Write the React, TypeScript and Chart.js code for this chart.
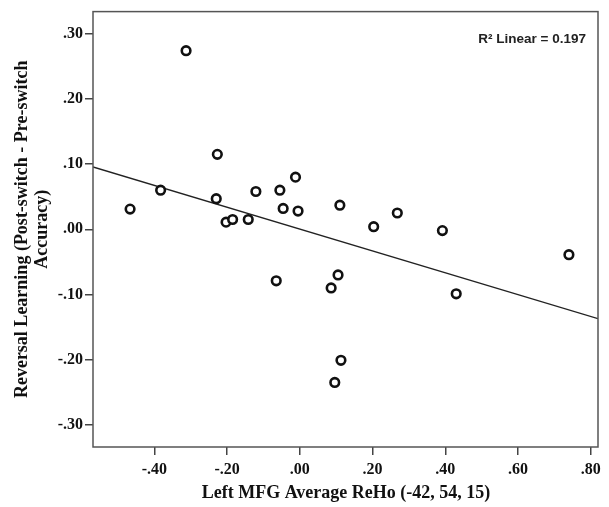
import React, { useEffect, useRef } from "react";
import { Chart, registerables } from "chart.js";

Chart.register(...registerables);

const xValues = [-0.467, -0.383, -0.313, -0.227, -0.230, -0.203, -0.185, -0.142, -0.121, -0.055, -0.046, -0.012, -0.005, 0.110, 0.203, 0.268, 0.392, 0.740, -0.065, 0.086, 0.105, 0.430, 0.113, 0.096];
const yValues = [0.031, 0.060, 0.274, 0.115, 0.047, 0.011, 0.015, 0.015, 0.058, 0.060, 0.032, 0.080, 0.028, 0.037, 0.004, 0.025, -0.002, -0.039, -0.079, -0.090, -0.070, -0.099, -0.201, -0.235];

const fitX = [-0.569, 0.82];
const fitY = [0.0956, -0.137];

const xTitle = "Left MFG Average ReHo (-42, 54, 15)";
const yTitleLines = ["Reversal Learning (Post-switch - Pre-switch", "Accuracy)"];
const r2Label = "R\u00B2 Linear = 0.197";

const xMin = -0.569, xMax = 0.82, xStep = 0.2;
const yMin = -0.334, yMax = 0.334, yStep = 0.1;

function fmt(v: number): string {
  if (Math.abs(v) < 1e-9) return ".00";
  const s = Math.abs(v).toFixed(2).replace(/^0/, "");
  return (v < 0 ? "-" : "") + s;
}

const serif = "'Liberation Serif', 'Times New Roman', serif";

export default function App() {
  const ref = useRef<HTMLCanvasElement | null>(null);
  useEffect(() => {
    if (!ref.current) return;
    const decor = {
      id: "decor",
      afterDraw(chart: any) {
        const { ctx, chartArea } = chart;
        ctx.save();
        ctx.strokeStyle = "#555";
        ctx.lineWidth = 1.5;
        ctx.strokeRect(chartArea.left, chartArea.top, chartArea.right - chartArea.left, chartArea.bottom - chartArea.top);
        ctx.fillStyle = "#111";
        ctx.font = `bold 18px ${serif}`;
        ctx.textAlign = "center";
        ctx.textBaseline = "alphabetic";
        ctx.fillText(xTitle, 346, 498);
        const cy = (chartArea.top + chartArea.bottom) / 2;
        ctx.save();
        ctx.translate(27, cy);
        ctx.rotate(-Math.PI / 2);
        ctx.fillText(yTitleLines[0], 0, 0);
        ctx.fillText(yTitleLines[1], 0, 20);
        ctx.restore();
        ctx.font = "bold 13.5px 'Liberation Sans', Arial, sans-serif";
        ctx.textAlign = "right";
        ctx.fillStyle = "#222";
        ctx.fillText(r2Label, 586, 43);
        ctx.restore();
      },
    };
    const chart = new Chart(ref.current, {
      type: "scatter",
      data: {
        datasets: [
          {
            data: xValues.map((x, i) => ({ x, y: yValues[i] })),
            pointRadius: 4.3,
            pointBorderWidth: 2.6,
            pointBorderColor: "#111",
            pointBackgroundColor: "#fff",
            order: 1,
          } as any,
          {
            data: fitX.map((x, i) => ({ x, y: fitY[i] })),
            showLine: true,
            pointRadius: 0,
            borderColor: "#222",
            borderWidth: 1.3,
            order: 2,
          } as any,
        ],
      },
      options: {
        animation: false,
        responsive: false,
        events: [],
        layout: { padding: { top: 9, right: 11, left: 0, bottom: 0 } },
        plugins: { legend: { display: false }, tooltip: { enabled: false } },
        scales: {
          x: {
            type: "linear",
            min: xMin,
            max: xMax,
            afterFit: (s: any) => { s.height = 60; },
            border: { display: false },
            grid: { drawOnChartArea: false, drawTicks: true, tickLength: 8, color: "#444", lineWidth: 1.5 },
            ticks: {
              stepSize: xStep,
              includeBounds: false,
              color: "#111",
              font: { family: serif, size: 16, weight: "bold" },
              padding: 5,
              maxRotation: 0,
              autoSkip: false,
              callback: (v: any) => fmt(Number(v)),
            },
          },
          y: {
            type: "linear",
            min: yMin,
            max: yMax,
            afterFit: (s: any) => { s.width = 93; },
            border: { display: false },
            grid: { drawOnChartArea: false, drawTicks: true, tickLength: 8, color: "#444", lineWidth: 1.5 },
            ticks: {
              stepSize: yStep,
              includeBounds: false,
              color: "#111",
              font: { family: serif, size: 16, weight: "bold" },
              padding: 2,
              autoSkip: false,
              callback: (v: any) => fmt(Number(v)),
            },
          },
        },
      },
      plugins: [decor],
    } as any);
    return () => chart.destroy();
  }, []);
  return (
    <div style={{ position: "absolute", left: 0, top: 0, width: 609, height: 507, background: "#fff" }}>
      <canvas ref={ref} width={609} height={507} style={{ display: "block" }} />
    </div>
  );
}
